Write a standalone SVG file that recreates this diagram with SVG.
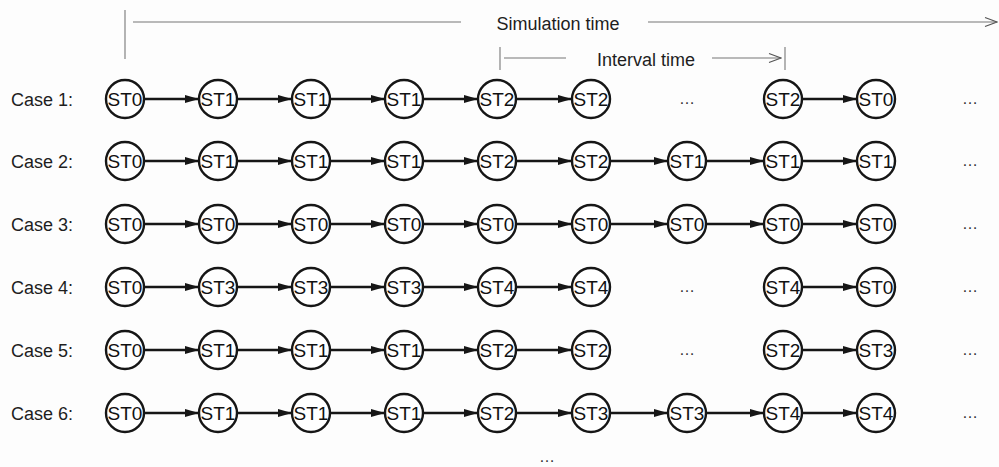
<svg xmlns="http://www.w3.org/2000/svg" width="999" height="467" viewBox="0 0 999 467">
  <defs>
    <style>
      .bg { fill: #fdfdfd; }
      .lbl { font-family: "Liberation Sans", Arial, sans-serif; font-size: 18px; fill: #1e1e1e; }
      .st { font-family: "Liberation Sans", Arial, sans-serif; font-size: 19px; fill: #111; text-anchor: middle; }
      .dots { font-family: "Liberation Sans", Arial, sans-serif; font-size: 16px; fill: #333; text-anchor: middle; }
      .node circle { fill: #fff; stroke: #161616; stroke-width: 2.4; }
      .edge { stroke: #161616; stroke-width: 2.4; fill: none; marker-end: url(#ah); }
      .time { stroke: #777; stroke-width: 1.1; fill: none; }
      .timearrow { stroke: #777; stroke-width: 1.1; fill: none; marker-end: url(#oh); }
    </style>
    <marker id="ah" markerUnits="userSpaceOnUse" markerWidth="15" markerHeight="10" refX="14" refY="5" orient="auto">
      <path d="M0,1 L14,5 L0,9 Z" fill="#161616"/>
    </marker>
    <marker id="oh" markerUnits="userSpaceOnUse" markerWidth="14" markerHeight="12" refX="13" refY="6" orient="auto">
      <path d="M1,1.5 L13,6 L1,10.5" fill="none" stroke="#555" stroke-width="1.2"/>
    </marker>
  </defs>

  <rect class="bg" x="0" y="0" width="999" height="467"/>

  <!-- time axes -->
  <g id="simulation-time">
    <line class="time" x1="125" y1="10" x2="125" y2="59"/>
    <line class="time" x1="133" y1="22" x2="461" y2="22"/>
    <text class="lbl" x="558" y="30" text-anchor="middle">Simulation time</text>
    <line class="timearrow" x1="648" y1="22" x2="997" y2="22"/>
  </g>
  <g id="interval-time">
    <line class="time" x1="500" y1="47" x2="500" y2="70"/>
    <line class="time" x1="504" y1="58" x2="566" y2="58"/>
    <text class="lbl" x="646" y="66" text-anchor="middle">Interval time</text>
    <line class="timearrow" x1="712" y1="58" x2="781" y2="58"/>
    <line class="time" x1="785" y1="47" x2="785" y2="70"/>
  </g>

  <!-- row labels -->
  <g id="labels">
    <text class="lbl" x="11" y="106">Case 1:</text>
    <text class="lbl" x="11" y="168">Case 2:</text>
    <text class="lbl" x="11" y="231">Case 3:</text>
    <text class="lbl" x="11" y="294">Case 4:</text>
    <text class="lbl" x="11" y="357">Case 5:</text>
    <text class="lbl" x="11" y="420">Case 6:</text>
  </g>

  <!-- connectors -->
  <g id="connectors">
    <!-- Case 1 -->
    <path class="edge" d="M144,99 H199"/>
    <path class="edge" d="M237,99 H292"/>
    <path class="edge" d="M330,99 H385"/>
    <path class="edge" d="M423,99 H478"/>
    <path class="edge" d="M516,99 H572"/>
    <path class="edge" d="M802,99 H857"/>
    <!-- Case 2 -->
    <path class="edge" d="M144,161 H199"/>
    <path class="edge" d="M237,161 H292"/>
    <path class="edge" d="M330,161 H385"/>
    <path class="edge" d="M423,161 H478"/>
    <path class="edge" d="M516,161 H572"/>
    <path class="edge" d="M610,161 H668"/>
    <path class="edge" d="M706,161 H764"/>
    <path class="edge" d="M802,161 H857"/>
    <!-- Case 3 -->
    <path class="edge" d="M144,224 H199"/>
    <path class="edge" d="M237,224 H292"/>
    <path class="edge" d="M330,224 H385"/>
    <path class="edge" d="M423,224 H478"/>
    <path class="edge" d="M516,224 H572"/>
    <path class="edge" d="M610,224 H668"/>
    <path class="edge" d="M706,224 H764"/>
    <path class="edge" d="M802,224 H857"/>
    <!-- Case 4 -->
    <path class="edge" d="M144,287 H199"/>
    <path class="edge" d="M237,287 H292"/>
    <path class="edge" d="M330,287 H385"/>
    <path class="edge" d="M423,287 H478"/>
    <path class="edge" d="M516,287 H572"/>
    <path class="edge" d="M802,287 H857"/>
    <!-- Case 5 -->
    <path class="edge" d="M144,350 H199"/>
    <path class="edge" d="M237,350 H292"/>
    <path class="edge" d="M330,350 H385"/>
    <path class="edge" d="M423,350 H478"/>
    <path class="edge" d="M516,350 H572"/>
    <path class="edge" d="M802,350 H857"/>
    <!-- Case 6 -->
    <path class="edge" d="M144,413 H199"/>
    <path class="edge" d="M237,413 H292"/>
    <path class="edge" d="M330,413 H385"/>
    <path class="edge" d="M423,413 H478"/>
    <path class="edge" d="M516,413 H572"/>
    <path class="edge" d="M610,413 H668"/>
    <path class="edge" d="M706,413 H764"/>
    <path class="edge" d="M802,413 H857"/>
  </g>

  <!-- Case 1 states -->
  <g id="c1n1" class="node"><circle cx="125" cy="99" r="19"/><text class="st" x="125" y="106">ST0</text></g>
  <g id="c1n2" class="node"><circle cx="218" cy="99" r="19"/><text class="st" x="218" y="106">ST1</text></g>
  <g id="c1n3" class="node"><circle cx="311" cy="99" r="19"/><text class="st" x="311" y="106">ST1</text></g>
  <g id="c1n4" class="node"><circle cx="404" cy="99" r="19"/><text class="st" x="404" y="106">ST1</text></g>
  <g id="c1n5" class="node"><circle cx="497" cy="99" r="19"/><text class="st" x="497" y="106">ST2</text></g>
  <g id="c1n6" class="node"><circle cx="591" cy="99" r="19"/><text class="st" x="591" y="106">ST2</text></g>
  <g id="c1gap"><text class="dots" x="687" y="104">…</text></g>
  <g id="c1n8" class="node"><circle cx="783" cy="99" r="19"/><text class="st" x="783" y="106">ST2</text></g>
  <g id="c1n9" class="node"><circle cx="876" cy="99" r="19"/><text class="st" x="876" y="106">ST0</text></g>
  <g id="c1more"><text class="dots" x="970" y="104">…</text></g>

  <!-- Case 2 states -->
  <g id="c2n1" class="node"><circle cx="125" cy="161" r="19"/><text class="st" x="125" y="168">ST0</text></g>
  <g id="c2n2" class="node"><circle cx="218" cy="161" r="19"/><text class="st" x="218" y="168">ST1</text></g>
  <g id="c2n3" class="node"><circle cx="311" cy="161" r="19"/><text class="st" x="311" y="168">ST1</text></g>
  <g id="c2n4" class="node"><circle cx="404" cy="161" r="19"/><text class="st" x="404" y="168">ST1</text></g>
  <g id="c2n5" class="node"><circle cx="497" cy="161" r="19"/><text class="st" x="497" y="168">ST2</text></g>
  <g id="c2n6" class="node"><circle cx="591" cy="161" r="19"/><text class="st" x="591" y="168">ST2</text></g>
  <g id="c2n7" class="node"><circle cx="687" cy="161" r="19"/><text class="st" x="687" y="168">ST1</text></g>
  <g id="c2n8" class="node"><circle cx="783" cy="161" r="19"/><text class="st" x="783" y="168">ST1</text></g>
  <g id="c2n9" class="node"><circle cx="876" cy="161" r="19"/><text class="st" x="876" y="168">ST1</text></g>
  <g id="c2more"><text class="dots" x="970" y="166">…</text></g>

  <!-- Case 3 states -->
  <g id="c3n1" class="node"><circle cx="125" cy="224" r="19"/><text class="st" x="125" y="231">ST0</text></g>
  <g id="c3n2" class="node"><circle cx="218" cy="224" r="19"/><text class="st" x="218" y="231">ST0</text></g>
  <g id="c3n3" class="node"><circle cx="311" cy="224" r="19"/><text class="st" x="311" y="231">ST0</text></g>
  <g id="c3n4" class="node"><circle cx="404" cy="224" r="19"/><text class="st" x="404" y="231">ST0</text></g>
  <g id="c3n5" class="node"><circle cx="497" cy="224" r="19"/><text class="st" x="497" y="231">ST0</text></g>
  <g id="c3n6" class="node"><circle cx="591" cy="224" r="19"/><text class="st" x="591" y="231">ST0</text></g>
  <g id="c3n7" class="node"><circle cx="687" cy="224" r="19"/><text class="st" x="687" y="231">ST0</text></g>
  <g id="c3n8" class="node"><circle cx="783" cy="224" r="19"/><text class="st" x="783" y="231">ST0</text></g>
  <g id="c3n9" class="node"><circle cx="876" cy="224" r="19"/><text class="st" x="876" y="231">ST0</text></g>
  <g id="c3more"><text class="dots" x="970" y="229">…</text></g>

  <!-- Case 4 states -->
  <g id="c4n1" class="node"><circle cx="125" cy="287" r="19"/><text class="st" x="125" y="294">ST0</text></g>
  <g id="c4n2" class="node"><circle cx="218" cy="287" r="19"/><text class="st" x="218" y="294">ST3</text></g>
  <g id="c4n3" class="node"><circle cx="311" cy="287" r="19"/><text class="st" x="311" y="294">ST3</text></g>
  <g id="c4n4" class="node"><circle cx="404" cy="287" r="19"/><text class="st" x="404" y="294">ST3</text></g>
  <g id="c4n5" class="node"><circle cx="497" cy="287" r="19"/><text class="st" x="497" y="294">ST4</text></g>
  <g id="c4n6" class="node"><circle cx="591" cy="287" r="19"/><text class="st" x="591" y="294">ST4</text></g>
  <g id="c4gap"><text class="dots" x="687" y="292">…</text></g>
  <g id="c4n8" class="node"><circle cx="783" cy="287" r="19"/><text class="st" x="783" y="294">ST4</text></g>
  <g id="c4n9" class="node"><circle cx="876" cy="287" r="19"/><text class="st" x="876" y="294">ST0</text></g>
  <g id="c4more"><text class="dots" x="970" y="292">…</text></g>

  <!-- Case 5 states -->
  <g id="c5n1" class="node"><circle cx="125" cy="350" r="19"/><text class="st" x="125" y="357">ST0</text></g>
  <g id="c5n2" class="node"><circle cx="218" cy="350" r="19"/><text class="st" x="218" y="357">ST1</text></g>
  <g id="c5n3" class="node"><circle cx="311" cy="350" r="19"/><text class="st" x="311" y="357">ST1</text></g>
  <g id="c5n4" class="node"><circle cx="404" cy="350" r="19"/><text class="st" x="404" y="357">ST1</text></g>
  <g id="c5n5" class="node"><circle cx="497" cy="350" r="19"/><text class="st" x="497" y="357">ST2</text></g>
  <g id="c5n6" class="node"><circle cx="591" cy="350" r="19"/><text class="st" x="591" y="357">ST2</text></g>
  <g id="c5gap"><text class="dots" x="687" y="355">…</text></g>
  <g id="c5n8" class="node"><circle cx="783" cy="350" r="19"/><text class="st" x="783" y="357">ST2</text></g>
  <g id="c5n9" class="node"><circle cx="876" cy="350" r="19"/><text class="st" x="876" y="357">ST3</text></g>
  <g id="c5more"><text class="dots" x="970" y="355">…</text></g>

  <!-- Case 6 states -->
  <g id="c6n1" class="node"><circle cx="125" cy="413" r="19"/><text class="st" x="125" y="420">ST0</text></g>
  <g id="c6n2" class="node"><circle cx="218" cy="413" r="19"/><text class="st" x="218" y="420">ST1</text></g>
  <g id="c6n3" class="node"><circle cx="311" cy="413" r="19"/><text class="st" x="311" y="420">ST1</text></g>
  <g id="c6n4" class="node"><circle cx="404" cy="413" r="19"/><text class="st" x="404" y="420">ST1</text></g>
  <g id="c6n5" class="node"><circle cx="497" cy="413" r="19"/><text class="st" x="497" y="420">ST2</text></g>
  <g id="c6n6" class="node"><circle cx="591" cy="413" r="19"/><text class="st" x="591" y="420">ST3</text></g>
  <g id="c6n7" class="node"><circle cx="687" cy="413" r="19"/><text class="st" x="687" y="420">ST3</text></g>
  <g id="c6n8" class="node"><circle cx="783" cy="413" r="19"/><text class="st" x="783" y="420">ST4</text></g>
  <g id="c6n9" class="node"><circle cx="876" cy="413" r="19"/><text class="st" x="876" y="420">ST4</text></g>
  <g id="c6more"><text class="dots" x="970" y="418">…</text></g>

  <!-- further cases continue below -->
  <g id="more-cases"><text class="dots" x="547" y="462">…</text></g>
</svg>
